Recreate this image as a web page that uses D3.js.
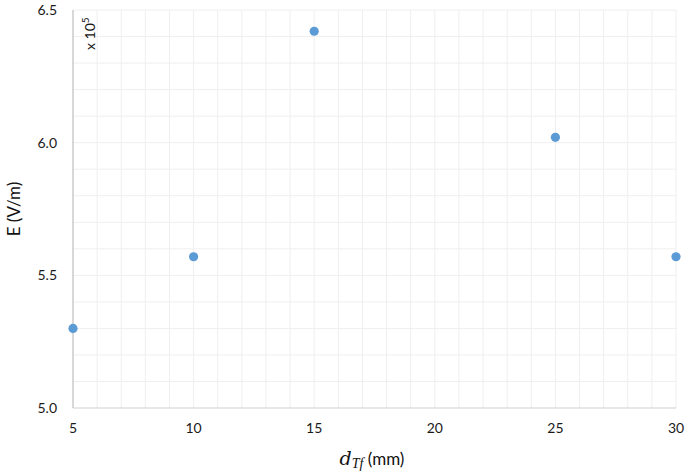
<!DOCTYPE html>
<html><head><meta charset="utf-8">
<script src="https://cdn.jsdelivr.net/npm/d3@7"></script>
<style>body{margin:0;background:#fff}svg{display:block}</style>
</head><body>
<svg id="c" width="685" height="473"></svg>
<script>
const xValues = [5, 10, 15, 25, 30];
const eValues = [5.30, 5.57, 6.42, 6.02, 5.57];
const xTicks = [5, 10, 15, 20, 25, 30];
const yTicks = [5.0, 5.5, 6.0, 6.5];

const svg = d3.select("#c");
const L = 73, R = 676, T = 10, B = 408;
const x = d3.scaleLinear().domain([5, 30]).range([L, R]);
const y = d3.scaleLinear().domain([5.0, 6.5]).range([B, T]);
const font = "Lato, 'Open Sans', sans-serif";

// grid
const g = svg.append("g");
g.selectAll("line.v").data(d3.range(6, 31)).join("line")
  .attr("x1", d => x(d)).attr("x2", d => x(d)).attr("y1", T).attr("y2", B)
  .attr("stroke", "#efefef").attr("stroke-width", 1);
g.selectAll("line.h").data(d3.range(1, 16).map(i => 5 + i * 0.1)).join("line")
  .attr("x1", L).attr("x2", R).attr("y1", d => y(d)).attr("y2", d => y(d))
  .attr("stroke", "#efefef").attr("stroke-width", 1);

// axes lines
svg.append("line").attr("x1", L).attr("x2", L).attr("y1", T).attr("y2", B)
  .attr("stroke", "#bfbfbf").attr("stroke-width", 1.2);
svg.append("line").attr("x1", L).attr("x2", R).attr("y1", B).attr("y2", B)
  .attr("stroke", "#d0d0d0").attr("stroke-width", 1.2);

// tick labels
svg.selectAll("text.yt").data(yTicks).join("text")
  .attr("x", 57).attr("y", d => y(d) + 5).attr("text-anchor", "end")
  .attr("font-family", font).attr("font-size", 14).attr("fill", "#1a1a1a")
  .text(d => d.toFixed(1));
svg.selectAll("text.xt").data(xTicks).join("text")
  .attr("x", d => x(d)).attr("y", 433).attr("text-anchor", "middle")
  .attr("font-family", font).attr("font-size", 14).attr("fill", "#1a1a1a")
  .text(d => d);

// points
svg.selectAll("circle").data(xValues).join("circle")
  .attr("cx", (d) => x(d)).attr("cy", (d, i) => y(eValues[i])).attr("r", 4.6)
  .attr("fill", "#5b9bd5");

// y title
svg.append("text").attr("transform", "translate(20,209) rotate(-90)")
  .attr("text-anchor", "middle").attr("font-family", font).attr("font-size", 17)
  .attr("fill", "#111").text("E (V/m)");

// x 10^5
const m = svg.append("text").attr("transform", "translate(95,50) rotate(-90)")
  .attr("font-family", font).attr("font-size", 14).attr("fill", "#111");
m.append("tspan").text("x 10");
m.append("tspan").attr("font-size", 10).attr("dy", -6).text("5");

// x title
const xt = svg.append("text").attr("x", 372).attr("y", 465).attr("text-anchor", "middle")
  .attr("fill", "#111");
xt.append("tspan").attr("font-family", "'DejaVu Serif', 'Liberation Serif', serif").attr("font-style", "italic").attr("font-size", 19).text("d");
xt.append("tspan").attr("font-family", "'Liberation Serif', serif").attr("font-style", "italic").attr("font-size", 14).attr("dy", 3).text("Tf");
xt.append("tspan").attr("font-family", font).attr("font-size", 17).attr("dy", -3).text(" (mm)");
</script>
</body></html>
